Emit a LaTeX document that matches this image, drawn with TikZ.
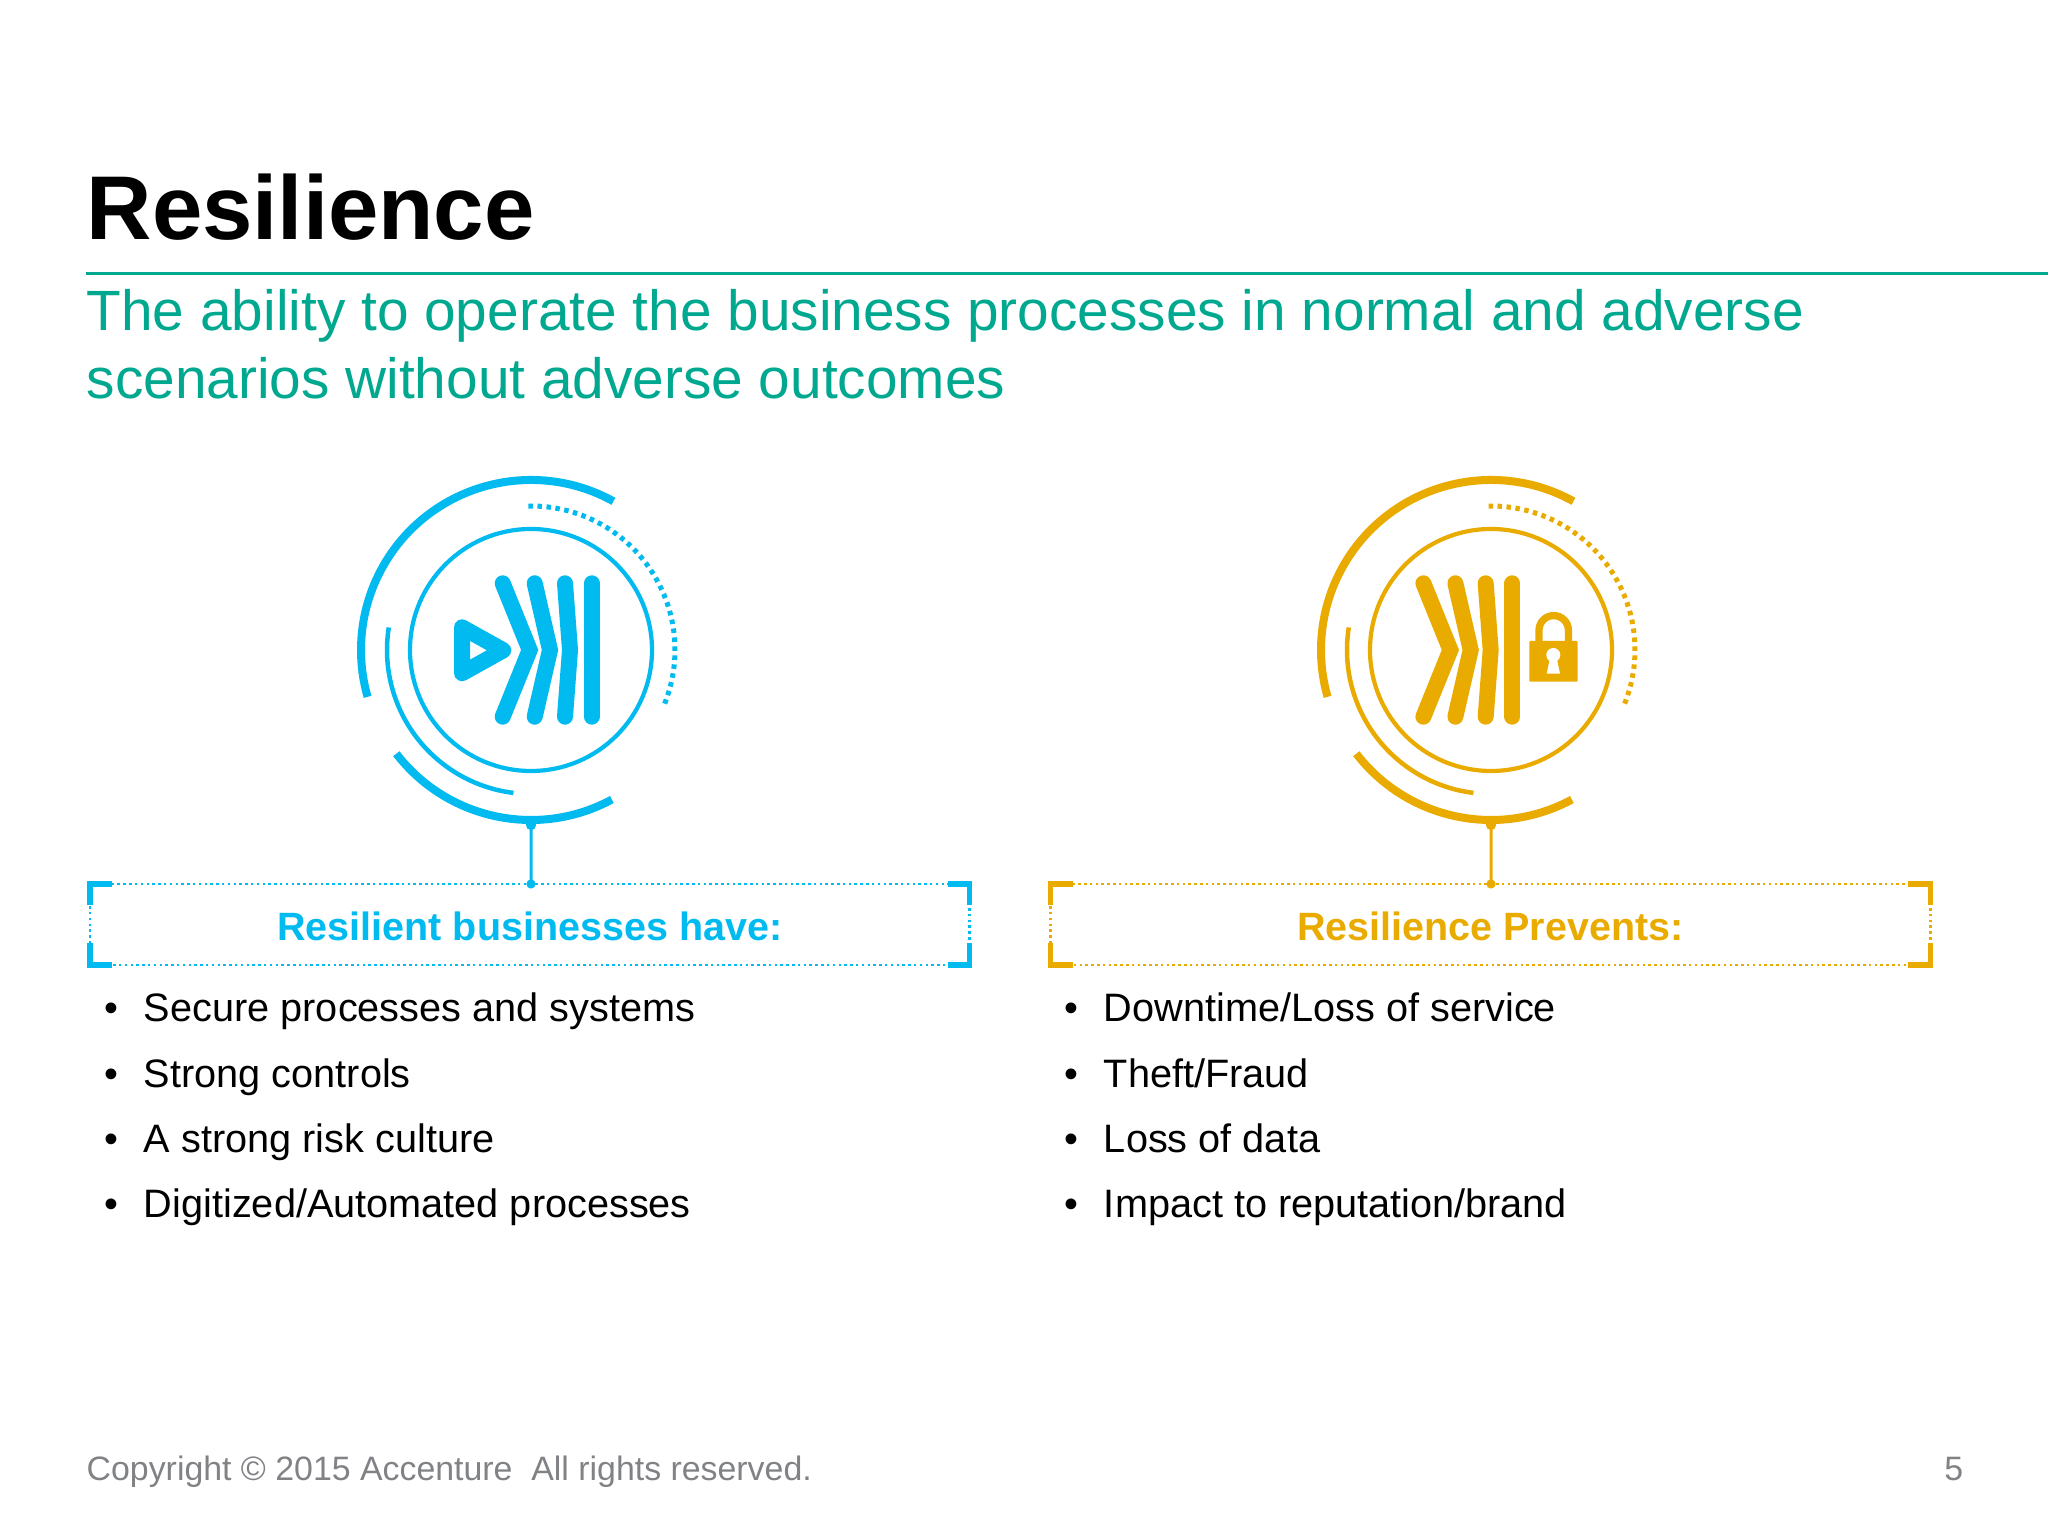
\documentclass[tikz,border=0pt]{standalone}
\usepackage{fontspec}
\setmainfont{Liberation Sans}
\usetikzlibrary{positioning}
\usetikzlibrary{arrows.meta}
\definecolor{ringblue}{HTML}{00BAF0}
\definecolor{ringgold}{HTML}{EAAB00}
\definecolor{rulegreen}{HTML}{00A88F}
\definecolor{footgrey}{HTML}{808285}
\tikzstyle{title} = [anchor=base west, inner sep=0, font=\fontsize{25.75pt}{30pt}\selectfont\bfseries]
\tikzstyle{subtitle} = [anchor=base west, inner sep=0, text=rulegreen, font=\fontsize{16.15pt}{19pt}\selectfont]
\tikzstyle{head} = [draw, inner sep=0, outer sep=0, line width=0.025cm, dash pattern=on 0.025cm off 0.033cm, minimum width=8.793cm, minimum height=0.81cm, text height=0.4cm, text depth=0.09cm, font=\fontsize{11.23pt}{13pt}\selectfont\bfseries]
\tikzstyle{bracket} = [line width=0.055cm, line cap=butt]
\tikzstyle{stem} = [line width=0.03cm, {Circle[length=0.1cm]}-{Circle[length=0.09cm]}]
\tikzstyle{item} = [anchor=west, inner sep=0, outer sep=0, text height=0.3cm, text depth=0.1cm, font=\fontsize{11.28pt}{14pt}\selectfont]
\tikzstyle{foot} = [inner sep=0, text=footgrey, font=\fontsize{9.63pt}{12pt}\selectfont]
\newcommand{\ringmark}[2]{%
   \draw[#1, line width=0.08cm] (61:170) arc [start angle=61, end angle=196, radius=170];
   \draw[#1, line width=0.08cm] (217.6:170) arc [start angle=217.6, end angle=298.4, radius=170];
   \draw[#1, line width=0.045cm] (171:144) arc [start angle=171, end angle=263, radius=144];
   \draw[#1, line width=0.05cm, dash pattern=on 0.045cm off 0.045cm] (91:144) arc [start angle=91, end angle=-22.6, radius=144];
   \draw[#1, line width=0.042cm] (0,0) circle [radius=121];
   \begin{scope}[xshift=#2, line width=0.16cm, line cap=round, #1]
      \draw (-28.3,66.7) -- (-1.3,0) -- (-28.3,-66.7);
      \draw (3.7,66.7) -- (19,0) -- (3.7,-66.7);
      \draw (34,66.7) -- (39,0) -- (34,-66.7);
      \draw (60.7,66.7) -- (60.7,-66.7);
   \end{scope}
}
\begin{document}
\begin{tikzpicture}[x=0.01cm, y=0.01cm]
   \useasboundingbox (0,0) rectangle (2048,1536);
   % Place nodes
   \node [title] (name) at (86,1296) {Resilience};
   \node [subtitle] (line1) at (86,1205) {The ability to operate the business processes in normal and adverse};
   \node [subtitle] (line2) at (86,1137) {scenarios without adverse outcomes};
   \coordinate (ruleleft) at (86,1262);
   \coordinate (ruleright) at (2048,1262);
   \draw[rulegreen, line width=0.03cm] (ruleleft) -- (ruleright);

   % Left ring
   \begin{scope}[shift={(531,886)}]
      \ringmark{ringblue}{0cm}
      \draw[ringblue, line width=0.16cm, line join=round] (-69,22.7) -- (-69,-23.3) -- (-27.7,-0.3) -- cycle;
      \coordinate (bluetip) at (0,-170);
   \end{scope}
   % Right ring
   \begin{scope}[shift={(1491,886)}]
      \ringmark{ringgold}{-0.393cm}
      \fill[ringgold, rounded corners=0.01cm] (38.3,9) rectangle (86.7,-31.7);
      \draw[ringgold, line width=0.073cm] (48,9) -- (48,19.7) arc [start angle=180, end angle=0, radius=14.7] -- (77.4,9);
      \fill[white] (62.3,-5) circle [radius=7];
      \fill[white] (59,-8) -- (65.7,-8) -- (69,-23.7) -- (55.7,-23.7) -- cycle;
      \coordinate (goldtip) at (0,-170);
   \end{scope}

   % Headed boxes
   \node [head, draw=ringblue, text=ringblue] (bluehead) at (529.8,611.5) {Resilient businesses have:};
   \node [head, draw=ringgold, text=ringgold] (goldhead) at (1490.5,611.5) {Resilience Prevents:};
   \draw[stem, ringblue] (bluetip) -- ([xshift=0.012cm, yshift=-0.045cm]bluehead.north);
   \draw[stem, ringgold] (goldtip) -- ([xshift=0.005cm, yshift=-0.045cm]goldhead.north);
   \draw[bracket, ringblue] ([yshift=-0.21cm]bluehead.north west) -- (bluehead.north west) -- ([xshift=0.22cm]bluehead.north west);
   \draw[bracket, ringblue] ([yshift=-0.21cm]bluehead.north east) -- (bluehead.north east) -- ([xshift=-0.22cm]bluehead.north east);
   \draw[bracket, ringblue] ([yshift=0.22cm]bluehead.south west) -- (bluehead.south west) -- ([xshift=0.22cm]bluehead.south west);
   \draw[bracket, ringblue] ([yshift=0.22cm]bluehead.south east) -- (bluehead.south east) -- ([xshift=-0.22cm]bluehead.south east);
   \draw[bracket, ringgold] ([yshift=-0.21cm]goldhead.north west) -- (goldhead.north west) -- ([xshift=0.22cm]goldhead.north west);
   \draw[bracket, ringgold] ([yshift=-0.21cm]goldhead.north east) -- (goldhead.north east) -- ([xshift=-0.22cm]goldhead.north east);
   \draw[bracket, ringgold] ([yshift=0.22cm]goldhead.south west) -- (goldhead.south west) -- ([xshift=0.22cm]goldhead.south west);
   \draw[bracket, ringgold] ([yshift=0.22cm]goldhead.south east) -- (goldhead.south east) -- ([xshift=-0.22cm]goldhead.south east);

   % Bullet lists
   \node [item] (b1) at (104,524) {\makebox[0.40cm][l]{•}Secure processes and systems};
   \node [item, below = 0.25 cm of b1.south west, anchor=north west] (b2) {\makebox[0.40cm][l]{•}Strong controls};
   \node [item, below = 0.25 cm of b2.south west, anchor=north west] (b3) {\makebox[0.40cm][l]{•}A strong risk culture};
   \node [item, below = 0.25 cm of b3.south west, anchor=north west] (b4) {\makebox[0.40cm][l]{•}Digitized/Automated processes};
   \node [item] (g1) at (1064,524) {\makebox[0.40cm][l]{•}Downtime/Loss of service};
   \node [item, below = 0.25 cm of g1.south west, anchor=north west] (g2) {\makebox[0.40cm][l]{•}Theft/Fraud};
   \node [item, below = 0.25 cm of g2.south west, anchor=north west] (g3) {\makebox[0.40cm][l]{•}Loss of data};
   \node [item, below = 0.25 cm of g3.south west, anchor=north west] (g4) {\makebox[0.40cm][l]{•}Impact to reputation/brand};

   % Footer
   \node [foot, anchor=base west] (copy) at (86,55) {Copyright © 2015 Accenture \ All rights reserved.};
   \node [foot, anchor=base east] (page) at (1964,55) {5};
\end{tikzpicture}
\end{document}
